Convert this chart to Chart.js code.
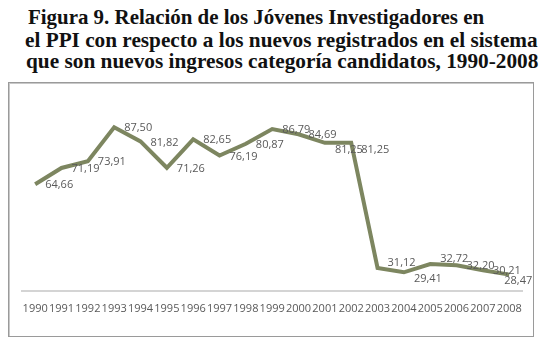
<!DOCTYPE html>
<html lang="es">
<head>
<meta charset="UTF-8">
<title>Figura 9</title>
<script src="https://cdn.jsdelivr.net/npm/chart.js"></script>
<style>
  html, body { margin: 0; padding: 0; background: #fff; }
  body { width: 540px; height: 343px; position: relative; overflow: hidden; }
  .tl {
    position: absolute; white-space: nowrap; transform-origin: 0 0;
    font-family: "Liberation Serif", "Times New Roman", serif;
    font-weight: bold; font-size: 21px; line-height: 21px; color: #111;
  }
  #box {
    position: absolute; left: 8px; top: 82px; width: 524px; height: 253px;
    border: 1px solid #9a9a9a; box-shadow: inset 1px 1px 0 #c8c8c8;
  }
</style>
</head>
<body>
<div class="tl" id="t1" style="left:28px; top:7px;" data-w="456">Figura 9. Relación de los Jóvenes Investigadores en</div>
<div class="tl" id="t2" style="left:25px; top:30px;" data-w="513">el PPI con respecto a los nuevos registrados en el sistema</div>
<div class="tl" id="t3" style="left:26px; top:51px;" data-w="512">que son nuevos ingresos categoría candidatos, 1990-2008</div>
<div id="box"><canvas id="chart" width="524" height="253"></canvas></div>

<script>
  const years = ['1990', '1991', '1992', '1993', '1994', '1995', '1996', '1997', '1998', '1999',
                 '2000', '2001', '2002', '2003', '2004', '2005', '2006', '2007', '2008'];
  const values = [64.66, 71.19, 73.91, 87.50, 81.82, 71.26, 82.65, 76.19, 80.87, 86.79,
                  84.69, 81.25, 81.25, 31.12, 29.41, 32.72, 32.20, 30.21, 28.47];
  // where each value label sits next to its point
  const labelPlace = ['r', 'r', 'r', 'r', 'r', 'r', 'r', 'r', 'r', 'r',
                      'r', 'rb', 'rb', 'ra', 'rb', 'ra', 'r', 'r', 'b'];

  // stretch the title lines to the width they have in the figure
  document.querySelectorAll('.tl').forEach(el => {
    const s = Number(el.dataset.w) / el.offsetWidth;
    el.style.transform = 'scaleX(' + s + ')';
  });

  const valueLabels = {
    id: 'valueLabels',
    afterDatasetsDraw(chart) {
      const ctx = chart.ctx;
      const meta = chart.getDatasetMeta(0);
      ctx.save();
      ctx.font = '11px "Open Sans", sans-serif';
      ctx.fillStyle = '#595959';
      ctx.textAlign = 'left';
      ctx.textBaseline = 'middle';
      meta.data.forEach((pt, i) => {
        const txt = values[i].toFixed(2).replace('.', ',');
        let dx = 10, dy = 1;
        const p = labelPlace[i];
        if (p === 'rb') dy = 7;
        if (p === 'ra') dy = -5;
        if (p === 'b') { dx = -5; dy = 6; }
        ctx.fillText(txt, pt.x + dx, pt.y + dy);
      });
      ctx.restore();
    }
  };

  new Chart(document.getElementById('chart'), {
    type: 'line',
    data: {
      labels: years,
      datasets: [{
        data: values,
        borderColor: '#7d8660',
        borderWidth: 4,
        pointRadius: 0,
        tension: 0,
        fill: false
      }]
    },
    options: {
      responsive: false,
      animation: false,
      layout: { padding: { left: 13, right: 7, top: 13, bottom: 10 } },
      plugins: { legend: { display: false }, tooltip: { enabled: false } },
      scales: {
        x: {
          offset: true,
          grid: { display: false, drawTicks: false },
          border: { display: true, color: '#d4d4d4', width: 2 },
          ticks: {
            autoSkip: false, maxRotation: 0, padding: 11,
            color: '#595959',
            font: { family: '"Open Sans", sans-serif', size: 11 }
          }
        },
        y: {
          display: false,
          min: 22,
          max: 100
        }
      }
    },
    plugins: [valueLabels]
  });
</script>
</body>
</html>
